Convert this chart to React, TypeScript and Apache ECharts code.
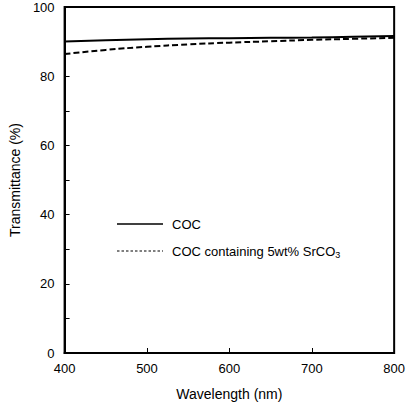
import React, { useEffect, useRef } from "react";
import * as echarts from "echarts";

const wavelengths = [400, 450, 500, 550, 600, 650, 700, 750, 800];
const cocValues = [90.0, 90.4, 90.7, 90.9, 91.0, 91.1, 91.2, 91.4, 91.6];
const srco3Values = [86.4, 87.6, 88.5, 89.2, 89.7, 90.1, 90.5, 90.8, 91.1];
const seriesNames = ["COC", "COC containing 5wt% SrCO3"];
const xTitle = "Wavelength (nm)";
const yTitle = "Transmittance (%)";

const FONT = "Liberation Sans, Arial, Helvetica, sans-serif";

export default function App() {
  const ref = useRef<HTMLDivElement>(null);
  useEffect(() => {
    if (!ref.current) return;
    const chart = echarts.init(ref.current, undefined, { renderer: "svg" });
    const toPairs = (vals: number[]) => wavelengths.map((w, i) => [w, vals[i]]);
    chart.setOption({
      animation: false,
      backgroundColor: "#fff",
      textStyle: { fontFamily: FONT },
      grid: {
        left: 61,
        right: 13,
        top: 7,
        bottom: 49,
        show: true,
        borderColor: "#000",
        borderWidth: 2,
        backgroundColor: "transparent",
      },
      xAxis: {
        type: "value",
        min: 400,
        max: 800,
        interval: 100,
        name: xTitle,
        nameLocation: "middle",
        nameGap: 34,
        nameTextStyle: { fontSize: 14, color: "#000", fontFamily: FONT },
        axisLine: { show: true, lineStyle: { color: "#000", width: 2 } },
        axisTick: { show: true, inside: true, length: 5, lineStyle: { color: "#000", width: 1 } },
        axisLabel: { color: "#000", fontSize: 13, margin: 9, fontFamily: FONT },
        splitLine: { show: false },
      },
      yAxis: {
        type: "value",
        min: 0,
        max: 100,
        interval: 10,
        name: yTitle,
        nameLocation: "middle",
        nameGap: 41,
        nameTextStyle: { fontSize: 14, color: "#000", fontFamily: FONT },
        axisLine: { show: true, lineStyle: { color: "#000", width: 2 } },
        axisTick: { show: true, inside: true, length: 5, lineStyle: { color: "#000", width: 1 } },
        axisLabel: {
          color: "#000",
          fontSize: 13,
          margin: 10,
          fontFamily: FONT,
          formatter: (v: number) => (v % 20 === 0 ? String(v) : ""),
        },
        splitLine: { show: false },
      },
      series: [
        {
          name: seriesNames[0],
          type: "line",
          smooth: true,
          showSymbol: false,
          data: toPairs(cocValues),
          lineStyle: { color: "#000", width: 2, type: "solid" },
        },
        {
          name: seriesNames[1],
          type: "line",
          smooth: true,
          showSymbol: false,
          data: toPairs(srco3Values),
          lineStyle: { color: "#000", width: 2, type: [6, 3] },
        },
      ],
      graphic: [
        {
          type: "line",
          shape: { x1: 117, y1: 224, x2: 163, y2: 224 },
          style: { stroke: "#000", lineWidth: 1.5 },
        },
        {
          type: "text",
          x: 172,
          y: 224,
          style: { text: seriesNames[0], fontSize: 13, fontFamily: FONT, fill: "#000", verticalAlign: "middle" },
        },
        {
          type: "line",
          shape: { x1: 117, y1: 251, x2: 163, y2: 251 },
          style: { stroke: "#000", lineWidth: 1.2, lineDash: [2.5, 2] },
        },
        {
          type: "text",
          x: 172,
          y: 251,
          style: {
            text: "{a|COC containing 5wt% SrCO}{b|3}",
            verticalAlign: "middle",
            rich: {
              a: { fontSize: 13, fontFamily: FONT, fill: "#000", color: "#000" },
              b: { fontSize: 9, fontFamily: FONT, fill: "#000", color: "#000", padding: [8, 0, 0, 0] },
            },
          },
        },
      ],
    });
    return () => chart.dispose();
  }, []);
  return (
    <div
      ref={ref}
      style={{ position: "fixed", left: 0, top: 0, width: 408, height: 406 }}
    />
  );
}
